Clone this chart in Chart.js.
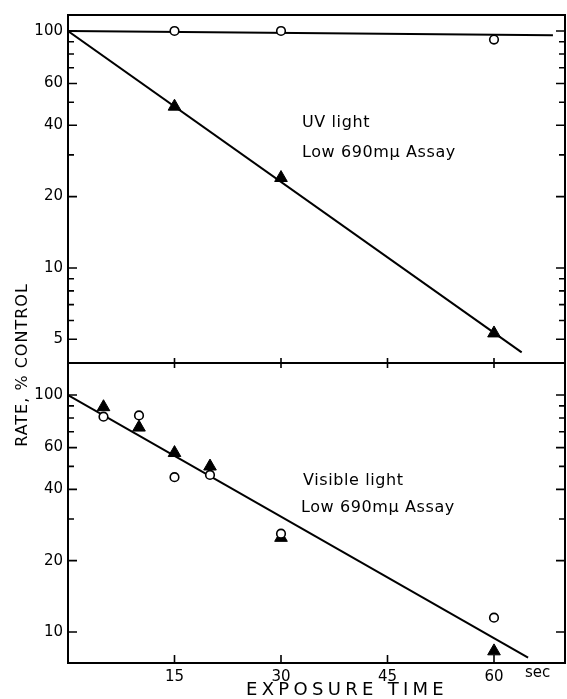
<!DOCTYPE html>
<html>
<head>
<meta charset="utf-8">
<script src="https://cdn.jsdelivr.net/npm/chart.js@4"></script>
<style>
  html, body { margin: 0; padding: 0; background: #fff; }
  #wrap { position: relative; width: 567px; height: 699px; }
</style>
</head>
<body>
<div id="wrap"><canvas id="myChart" width="567" height="699"></canvas></div>
<script>
// values (rate in % of control vs exposure time in sec)
const topTime = [15, 30, 60];
const topCircles = [100, 100, 92];
const topTriangles = [48, 24, 5.3];
const topCircleFitTime = [0, 68.3];
const topCircleFit = [100, 96];
const topTriFitTime = [0, 63.9];
const topTriFit = [100, 4.4];

const botTime = [5, 10, 15, 20, 30, 60];
const botCircles = [81, 82, 45, 46, 26, 11.5];
const botTriangles = [89, 73, 57, 50, 25, 8.3];
const botFitTime = [0, 64.8];
const botFit = [100, 7.8];

const xTicks = [15, 30, 45, 60];
const topTicks = [100, 90, 80, 70, 60, 50, 40, 30, 20, 10, 9, 8, 7, 6, 5];
const topLabels = [100, 60, 40, 20, 10, 5];
const botTicks = [100, 90, 80, 70, 60, 50, 40, 30, 20, 10];
const botLabels = [100, 60, 40, 20, 10];

const FONT = '"DejaVu Sans", sans-serif';

const pts = (xs, ys) => xs.map((x, i) => ({ x: x, y: ys[i] }));

const circleStyle = {
    pointStyle: 'circle', pointRadius: 4.3, pointBackgroundColor: '#fff',
    pointBorderColor: '#000', pointBorderWidth: 1.6, showLine: false
};
const triangleStyle = {
    pointStyle: 'triangle', pointRadius: 7.3, pointBackgroundColor: '#000',
    pointBorderColor: '#000', pointBorderWidth: 1, showLine: false
};
const lineStyle = {
    showLine: true, borderColor: '#000', borderWidth: 2, pointRadius: 0, tension: 0
};

// frame, inward tick marks and the free text
const framePlugin = {
    id: 'frame',
    afterDraw(chart) {
        const ctx = chart.ctx;
        const a = chart.chartArea;
        const yTop = chart.scales.yTop;
        const yBot = chart.scales.yBot;
        const x = chart.scales.x;
        ctx.save();
        ctx.strokeStyle = '#000';
        ctx.lineWidth = 2;
        ctx.strokeRect(a.left, a.top, a.right - a.left, a.bottom - a.top);
        const mid = yTop.bottom;
        ctx.beginPath();
        ctx.moveTo(a.left, mid);
        ctx.lineTo(a.right, mid);
        ctx.stroke();

        ctx.lineWidth = 1.6;
        const yMarks = (scale, list, labels) => {
            list.forEach(v => {
                const py = scale.getPixelForValue(v);
                const len = labels.includes(v) ? 9 : 6;
                ctx.beginPath();
                ctx.moveTo(a.left, py); ctx.lineTo(a.left + len, py);
                ctx.moveTo(a.right, py); ctx.lineTo(a.right - len, py);
                ctx.stroke();
            });
        };
        yMarks(yTop, topTicks, topLabels);
        yMarks(yBot, botTicks, botLabels);
        xTicks.forEach(v => {
            const px = x.getPixelForValue(v);
            ctx.beginPath();
            ctx.moveTo(px, a.bottom); ctx.lineTo(px, a.bottom - 8);
            ctx.moveTo(px, mid - 5); ctx.lineTo(px, mid + 5);
            ctx.stroke();
        });

        ctx.fillStyle = '#000';
        ctx.textBaseline = 'alphabetic';
        ctx.textAlign = 'left';
        ctx.font = '16px ' + FONT;
        ctx.letterSpacing = '0.6px';
        ctx.fillText('UV light', 302, 127);
        ctx.fillText('Low 690m\u03bc Assay', 302, 157);
        ctx.fillText('Visible light', 303, 485);
        ctx.fillText('Low 690m\u03bc Assay', 301, 512);

        ctx.font = '15px ' + FONT;
        ctx.letterSpacing = '0px';
        ctx.fillText('sec', 525, 677);

        ctx.font = '18px ' + FONT;
        ctx.letterSpacing = '4.3px';
        ctx.fillText('EXPOSURE TIME', 246, 695);

        ctx.translate(27, 365);
        ctx.rotate(-Math.PI / 2);
        ctx.textAlign = 'center';
        ctx.font = '16px ' + FONT;
        ctx.letterSpacing = '1px';
        ctx.fillText('RATE, % CONTROL', 0, 0);
        ctx.restore();
    }
};

const yAxis = (min, max, weight, list, labels) => ({
    type: 'logarithmic',
    position: 'left',
    stack: 'rate',
    stackWeight: weight,
    min: min,
    max: max,
    grid: { display: false, drawTicks: false },
    border: { display: false },
    afterFit: (scale) => { scale.width = 68; },
    afterBuildTicks: (scale) => { scale.ticks = list.map(v => ({ value: v })); },
    ticks: {
        autoSkip: false,
        padding: 5,
        color: '#000',
        font: { family: FONT, size: 15 },
        callback: (v) => labels.includes(Math.round(v * 10) / 10) ? String(v) : ''
    }
});

const ctx = document.getElementById('myChart');
const chart = new Chart(ctx, {
    type: 'scatter',
    data: {
        datasets: [
            Object.assign({ data: pts(topTime, topCircles), yAxisID: 'yTop' }, circleStyle),
            Object.assign({ data: pts(topTime, topTriangles), yAxisID: 'yTop' }, triangleStyle),
            Object.assign({ data: pts(botTime, botCircles), yAxisID: 'yBot' }, circleStyle),
            Object.assign({ data: pts(botTime, botTriangles), yAxisID: 'yBot' }, triangleStyle),
            Object.assign({ data: pts(topCircleFitTime, topCircleFit), yAxisID: 'yTop' }, lineStyle),
            Object.assign({ data: pts(topTriFitTime, topTriFit), yAxisID: 'yTop' }, lineStyle),
            Object.assign({ data: pts(botFitTime, botFit), yAxisID: 'yBot' }, lineStyle)
        ]
    },
    options: {
        responsive: false,
        animation: false,
        layout: { autoPadding: false, padding: { top: 15, right: 2, left: 0, bottom: 0 } },
        plugins: { legend: { display: false }, tooltip: { enabled: false } },
        scales: {
            x: {
                type: 'linear',
                min: 0,
                max: 70,
                grid: { display: false, drawTicks: false },
                border: { display: false },
                afterFit: (scale) => {
                    scale.height = 36;
                    scale.paddingLeft = 0;
                    scale.paddingRight = 0;
                },
                afterBuildTicks: (scale) => { scale.ticks = xTicks.map(v => ({ value: v })); },
                ticks: {
                    autoSkip: false,
                    maxRotation: 0,
                    padding: 5,
                    color: '#000',
                    font: { family: FONT, size: 15 }
                }
            },
            yBot: yAxis(7.4, 136.5, 300, botTicks, botLabels),
            yTop: yAxis(3.97, 116.8, 348, topTicks, topLabels)
        }
    },
    plugins: [framePlugin]
});
</script>
</body>
</html>
